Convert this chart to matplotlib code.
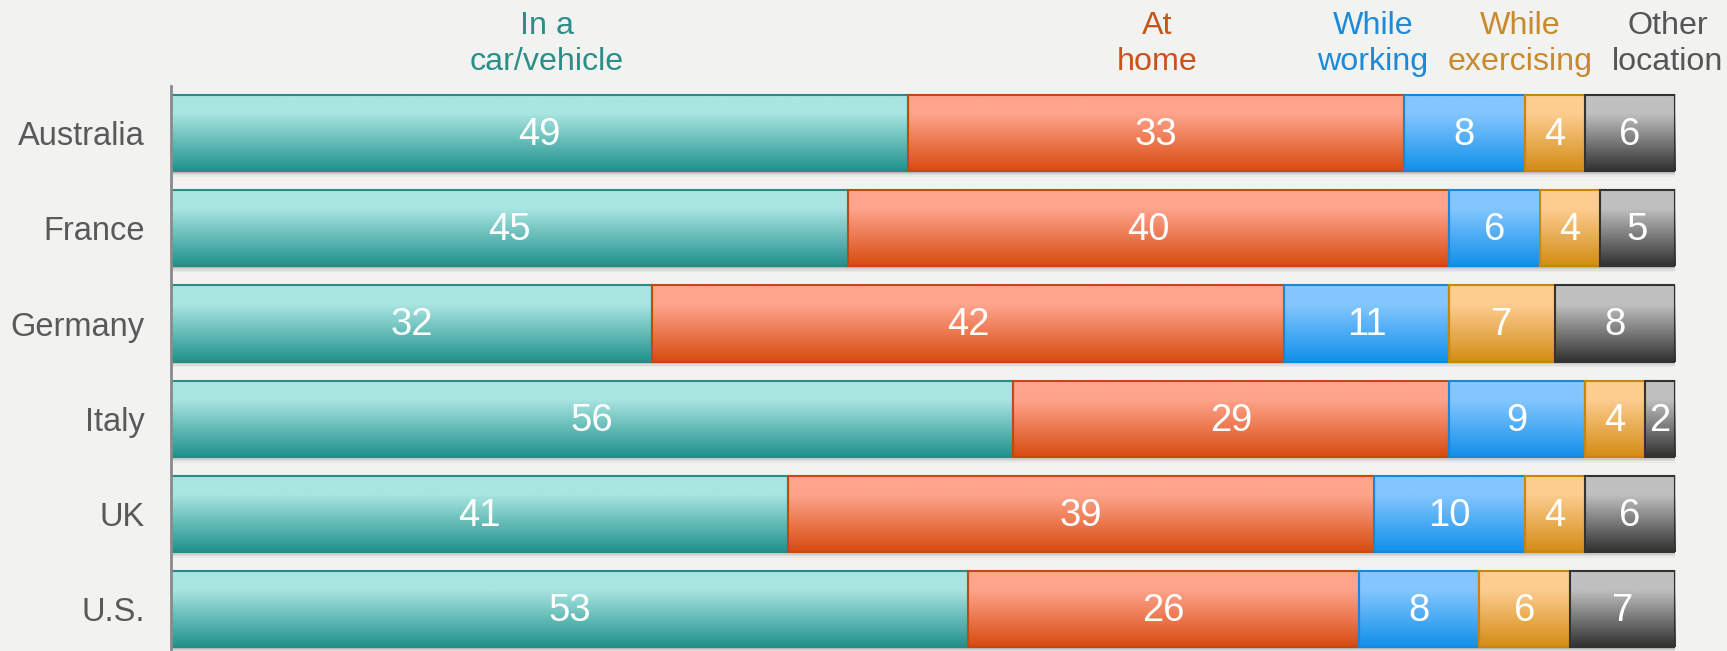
import numpy as np
import matplotlib
matplotlib.use("Agg")
import matplotlib.pyplot as plt
from matplotlib.colors import LinearSegmentedColormap
from matplotlib.transforms import blended_transform_factory

plt.rcParams['font.family'] = ['Liberation Sans', 'DejaVu Sans']

countries = ["Australia", "France", "Germany", "Italy", "UK", "U.S."]
locations = ["In a\ncar/vehicle", "At\nhome", "While\nworking", "While\nexercising", "Other\nlocation"]
car = [49, 45, 32, 56, 41, 53]
home = [33, 40, 42, 29, 39, 26]
working = [8, 6, 11, 9, 10, 8]
exercising = [4, 4, 7, 4, 4, 6]
other = [6, 5, 8, 2, 6, 7]
header_x = [25, 65.6, 79.9, 89.7, 99.5]

series = [car, home, working, exercising, other]
# (top colour, bottom colour, edge colour, header colour)
styles = [
    ("#a9e5e1", "#1f918c", "#2a8a85", "#2a8f88"),
    ("#ffa48c", "#d84b10", "#c4480f", "#c8541c"),
    ("#84c6ff", "#1190ea", "#1a86d8", "#1c8ad6"),
    ("#fdcd90", "#d38c14", "#c8860f", "#c88a2c"),
    ("#c0c0c0", "#303030", "#333333", "#555555"),
]

bg = "#f2f2f1"
fig = plt.figure(figsize=(17.27, 6.51), dpi=100, facecolor=bg)
ax = fig.add_axes([171 / 1727, 0, 1504 / 1727, 1 - 86 / 651])
ax.set_facecolor(bg)

y = np.arange(len(countries))
h = 0.8
grad = np.linspace(0, 1, 256).reshape(-1, 1)
head_tf = blended_transform_factory(ax.transData, fig.transFigure)

left = np.zeros(len(countries))
for vals, (top, bot, edge, hcol), name, hx in zip(series, styles, locations, header_x):
    vals = np.array(vals, dtype=float)
    # soft shadow under bars
    for k, a in [(0.06, 0.07), (0.045, 0.10), (0.03, 0.15), (0.015, 0.2)]:
        ax.barh(y + k, vals, left=left, height=h, color="#777777", alpha=a,
                linewidth=0, zorder=1)
    bars = ax.barh(y, vals, left=left, height=h, facecolor="none",
                   edgecolor=edge, linewidth=1.5, zorder=4)
    cmap = LinearSegmentedColormap.from_list("g", [(0, top), (0.25, top), (1, bot)])
    for b, v in zip(bars, vals):
        x0 = b.get_x()
        yc = b.get_y() + b.get_height() / 2
        ax.imshow(grad, cmap=cmap, aspect="auto", origin="upper",
                  extent=(x0, x0 + b.get_width(), yc + h / 2, yc - h / 2),
                  zorder=3, interpolation="bilinear")
        ax.text(x0 + b.get_width() / 2, yc + 0.02, f"{int(v)}", ha="center",
                va="center", color="white", fontsize=27.5, zorder=5)
    ax.text(hx, 1 - 44 / 651, name, transform=head_tf,
            ha="center", va="center", color=hcol, fontsize=23.2, linespacing=1.3,
            clip_on=False)
    left += vals

ax.set_xlim(0, 100)
ax.set_ylim(5.44, -0.495)
ax.set_yticks(y)
ax.set_yticklabels(countries, fontsize=23.5, color="#595959")
ax.tick_params(axis="y", length=0, pad=19)
ax.set_xticks([])
for s in ["top", "right", "bottom"]:
    ax.spines[s].set_visible(False)
ax.spines["left"].set_color("#8a8a8a")
ax.spines["left"].set_linewidth(2)
ax.spines["left"].set_zorder(6)

fig.savefig("out.png", dpi=100, facecolor=bg)
